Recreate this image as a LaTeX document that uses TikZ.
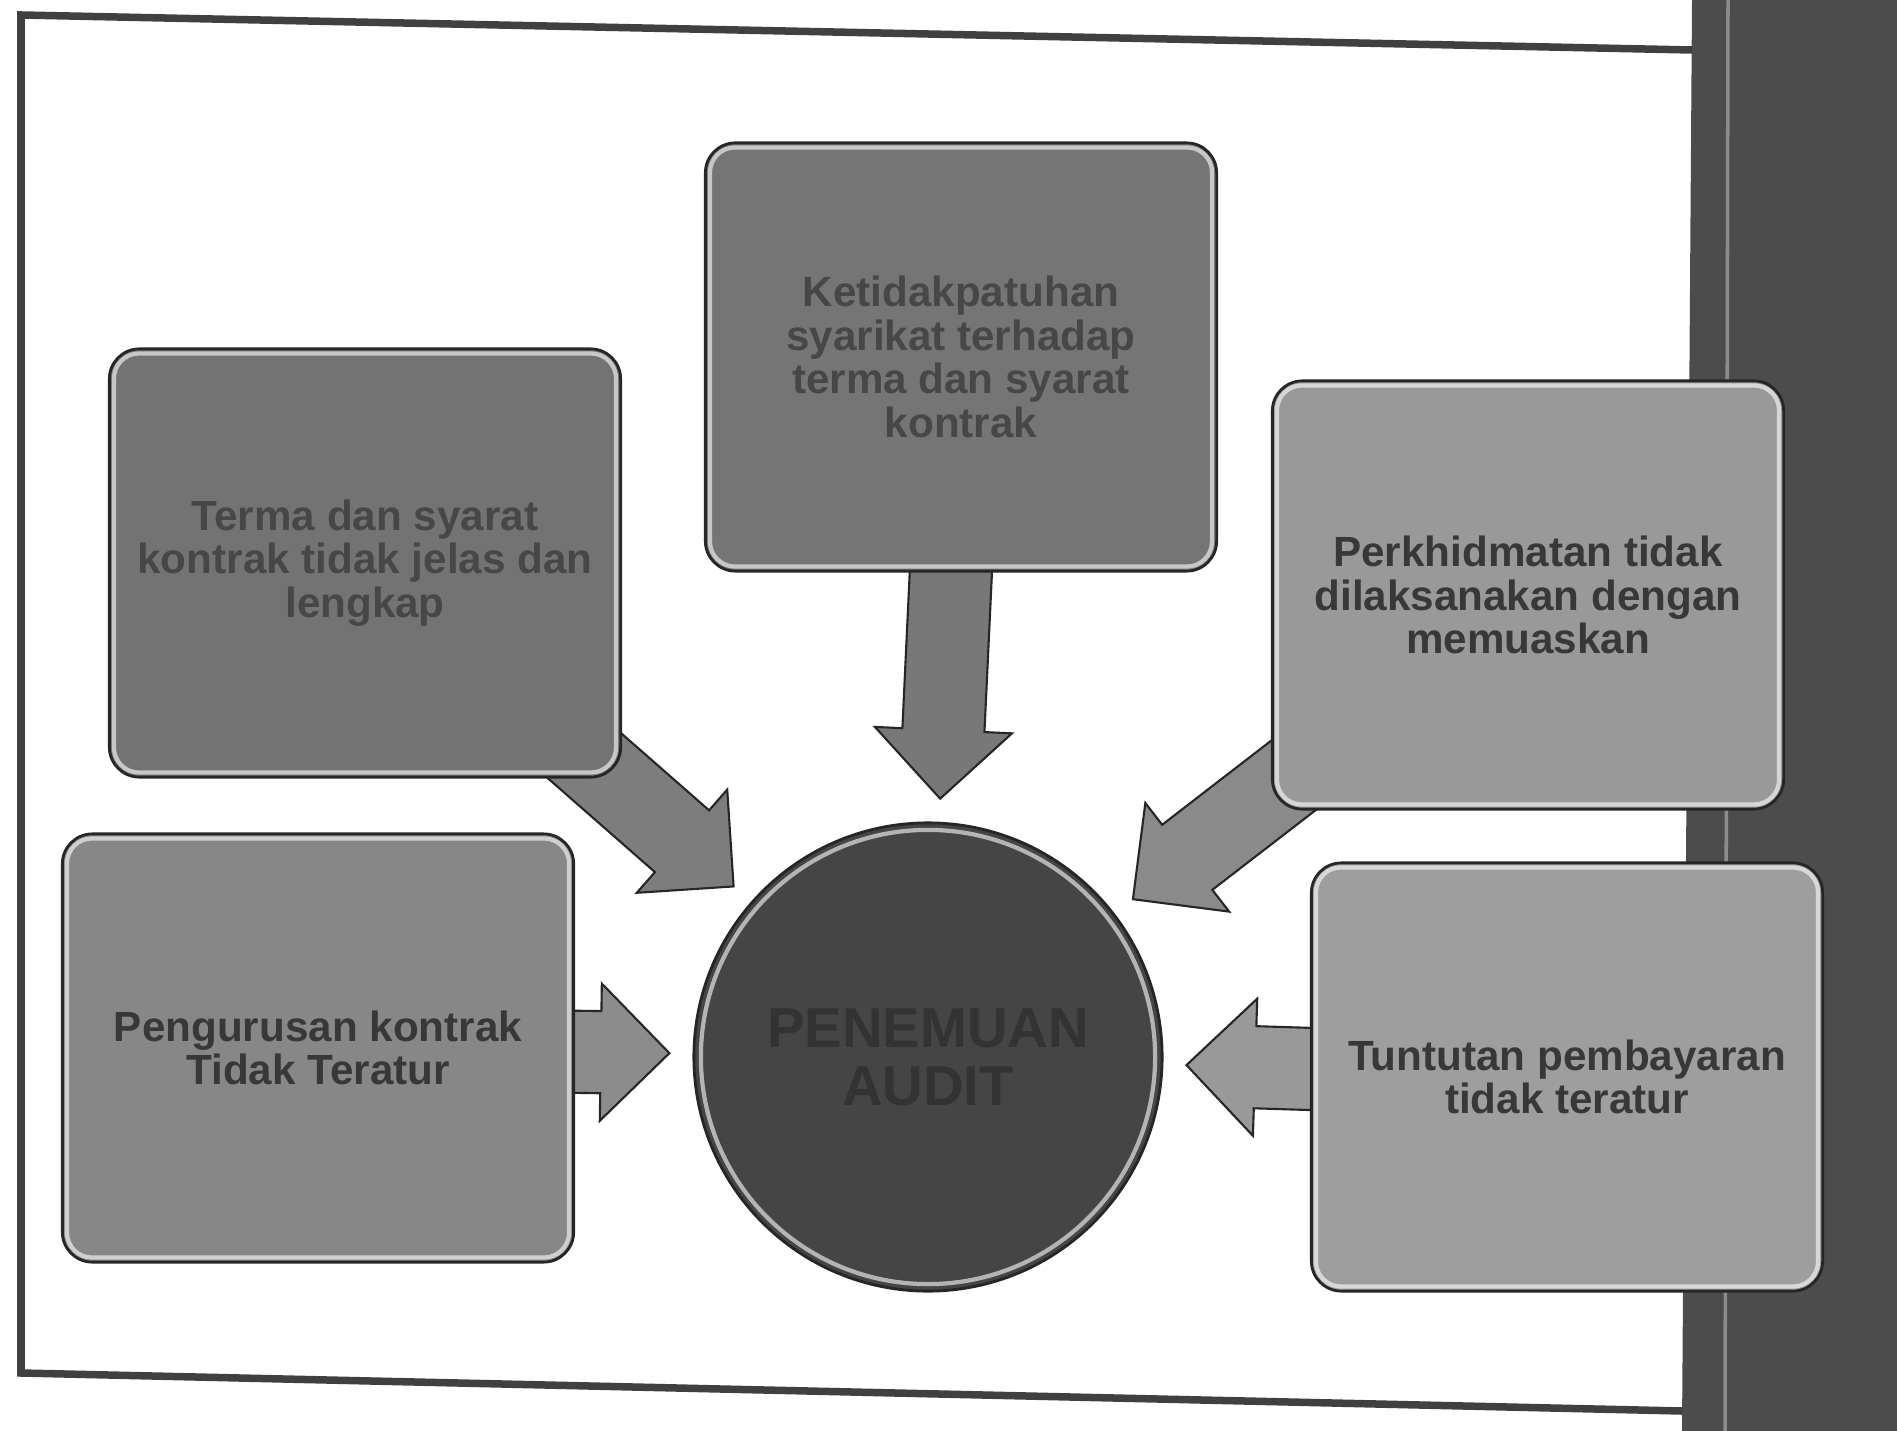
\documentclass[tikz,border=0pt]{standalone}
\usepackage{fontspec}
\setmainfont{Liberation Sans}
\usetikzlibrary{shapes.arrows,calc,backgrounds}

\tikzset{
  box/.style={rectangle, rounded corners=0.3cm, draw=black!85, line width=0.8pt,
    minimum width=5.11cm, minimum height=4.28cm, align=center,
    font=\fontsize{12}{12.4}\selectfont\bfseries, text=black!78},
  gloss/.style={white, opacity=0.6, line width=1.2pt, rounded corners=0.25cm},
  blockarrow/.style={single arrow, draw=black!85, line width=0.6pt,
    inner xsep=0pt, inner ysep=0.4cm, single arrow head extend=0.275cm,
    single arrow tip angle=90, sloped, allow upside down, anchor=tip}
}

\begin{document}
\begin{tikzpicture}[x=0.01cm, y=-0.01cm]
  \useasboundingbox (0,0) rectangle (1897,1431);
  \fill[black!70] (1692,0) -- (1897,0) -- (1897,1431) -- (1682,1431) -- cycle;
  \draw[black!45, line width=1pt] (1728,0) -- (1725,1431);
  \draw[black!75, line width=0.075cm, line join=miter] (1692,50) -- (21,15) -- (21,1373) -- (1682,1411);

  \node[box, fill=black!54, text=black!72] (T) at (961,357)
    {Ketidakpatuhan\\syarikat terhadap\\terma dan syarat\\kontrak};
  \node[box, fill=black!55, text=black!72] (LT) at (365,563)
    {Terma dan syarat\\kontrak tidak jelas dan\\lengkap};
  \node[box, fill=black!40] (RT) at (1528,595)
    {Perkhidmatan tidak\\dilaksanakan dengan\\memuaskan};
  \node[box, fill=black!47] (LB) at (318,1048)
    {Pengurusan kontrak\\Tidak Teratur};
  \node[box, fill=black!38] (RB) at (1567,1077)
    {Tuntutan pembayaran\\tidak teratur};
  \node[circle, draw=black!85, line width=0.8pt, fill=black!73, minimum size=4.68cm,
    align=center, font=\fontsize{16}{16.5}\selectfont\bfseries, text=black!80] (C) at (928,1057)
    {PENEMUAN\\AUDIT};

  \foreach \b in {T,LT,RT,LB,RB}
    \draw[gloss] ([shift={(6,6)}]\b.north west) rectangle ([shift={(-6,-6)}]\b.south east);
  \draw[gloss] (C) circle[radius=2.27cm];

  \begin{pgfonlayer}{background}
    \path (T) -- ($(C)!2.57cm!(T)$) node[at end, blockarrow, fill=black!53, minimum height=2.5cm] {};
    \path (LT) -- ($(C)!2.57cm!(LT)$) node[at end, blockarrow, fill=black!51, minimum height=2.3cm] {};
    \path (RT) -- ($(C)!2.57cm!(RT)$) node[at end, blockarrow, fill=black!46, minimum height=2.3cm] {};
    \path (LB) -- ($(C)!2.57cm!(LB)$) node[at end, blockarrow, fill=black!45, minimum height=1.7cm] {};
    \path (RB) -- ($(C)!2.57cm!(RB)$) node[at end, blockarrow, fill=black!40, minimum height=1.8cm] {};
  \end{pgfonlayer}
\end{tikzpicture}
\end{document}
